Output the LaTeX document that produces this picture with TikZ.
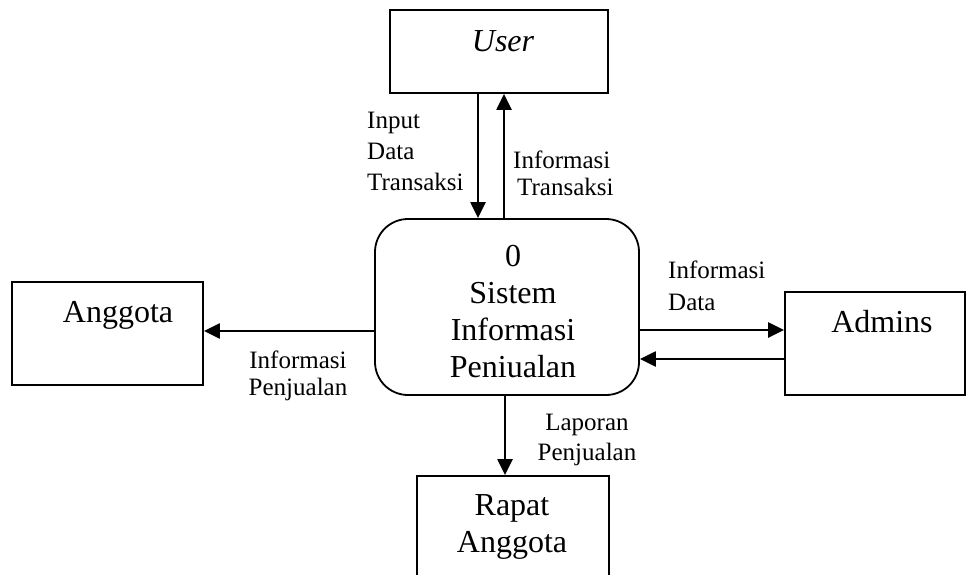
\documentclass[tikz,border=0pt]{standalone}
\usepackage{fontspec}
\setmainfont{Liberation Serif}
\usetikzlibrary{arrows.meta}
\begin{document}
\begin{tikzpicture}[x=1pt,y=-1pt,
  entity/.style={draw, line width=1.8pt, inner sep=0pt},
  process/.style={draw, line width=1.8pt, inner sep=0pt, rounded corners=33pt},
  flow/.style={line width=2.3pt, -{Triangle[length=16pt,width=15pt]}},
  bigtext/.style={font=\fontsize{32}{36.7}\selectfont, inner sep=0pt},
  lbl/.style={font=\fontsize{25}{31}\selectfont, inner sep=0pt}]
\useasboundingbox (0,0) rectangle (966,575);
\clip (0,0) rectangle (966,575);

% external entities and the central process
\node[entity, minimum width=218pt, minimum height=83pt] (user) at (499,51.5) {};
\node[entity, minimum width=191pt, minimum height=103pt] (ang) at (107.5,333.5) {};
\node[entity, minimum width=180pt, minimum height=103pt] (adm) at (875,343.5) {};
\node[entity, minimum width=192pt, minimum height=130pt] (rapat) at (513,541) {};
\node[process, minimum width=264pt, minimum height=176pt] (proc) at (507,307) {};

% texts inside the shapes (base = baseline of the last line)
\node[bigtext, anchor=base] (usertxt) at (503,52) {\itshape User};
\node[bigtext, anchor=base] (angtxt) at (118,322) {Anggota};
\node[bigtext, anchor=base] (admtxt) at (882,332) {Admins};
\node[bigtext, anchor=base, align=center] (rapattxt) at (512,552) {Rapat\\Anggota};
\node[bigtext, anchor=base, align=center] (proctxt) at (513,377) {0\\Sistem\\Informasi\\Peniualan};

% data flows
\draw[flow] (user.south -| 478,0) -- (proc.north -| 478,0);
\draw[flow] (proc.north -| 504,0) -- (user.south -| 504,0);
\draw[flow] (proc.west |- 0,331) -- (ang.east |- 0,331);
\draw[flow] (proc.east |- 0,330) -- (adm.west |- 0,330);
\draw[flow] (adm.west |- 0,359) -- (proc.east |- 0,359);
\draw[flow] (proc.south -| 505,0) -- (rapat.north -| 505,0);

% flow labels
\node[lbl, anchor=base west, align=left] (l1) at (367,190) {Input\\Data\\Transaksi};
\node[lbl, anchor=base west, align=left, font=\fontsize{25}{27}\selectfont] (l2) at (513,195) {Informasi\\\hspace{4pt}Transaksi};
\node[lbl, anchor=base west, align=left, font=\fontsize{25}{32}\selectfont] (l3) at (668,310) {Informasi\\Data};
\node[lbl, anchor=base, align=center, font=\fontsize{25}{27}\selectfont] (l4) at (298,395) {Informasi\\Penjualan};
\node[lbl, anchor=base, align=center, font=\fontsize{25}{30}\selectfont] (l5) at (587,460) {Laporan\\Penjualan};
\end{tikzpicture}
\end{document}
